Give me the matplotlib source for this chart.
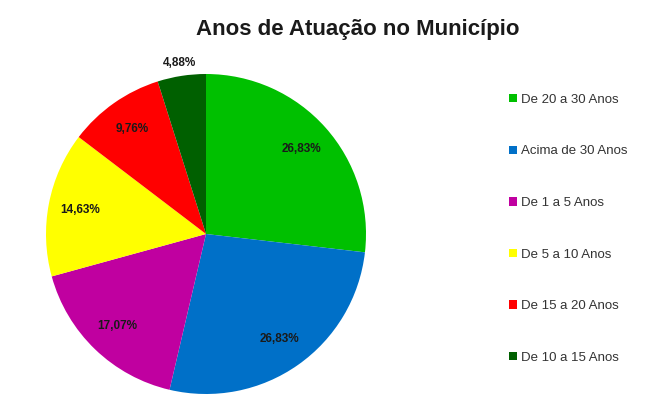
import matplotlib.pyplot as plt
from matplotlib.patches import Patch

plt.rcParams['font.family'] = ['Liberation Sans', 'DejaVu Sans']

labels = ['De 20 a 30 Anos', 'Acima de 30 Anos', 'De 1 a 5 Anos',
          'De 5 a 10 Anos', 'De 15 a 20 Anos', 'De 10 a 15 Anos']
values = [26.83, 26.83, 17.07, 14.63, 9.76, 4.88]
colors = ['#00c000', '#0070c8', '#c000a0', '#ffff00', '#ff0000', '#006000']

fig = plt.figure(figsize=(6.57, 3.99), dpi=100)
fig.patch.set_facecolor('white')

ax = fig.add_axes([46/657, 5/399, 320/657, 320/399])
wedges, texts, autotexts = ax.pie(
    values, colors=colors, startangle=90, counterclock=False,
    autopct=lambda p: ('%.2f%%' % p).replace('.', ','),
    pctdistance=0.8,
    textprops=dict(fontsize=8.5, fontweight='bold', color='#1a1a1a'))
ax.set_xlim(-1, 1)
ax.set_ylim(-1, 1)
ax.set_aspect('equal')

# smallest slice gets its label outside the pie
x, y = autotexts[-1].get_position()
autotexts[-1].set_position((x / 0.8 * 1.08, y / 0.8 * 1.08))

fig.text(358/657, 1 - 29/399, 'Anos de Atuação no Município',
         ha='center', va='center', fontsize=16, fontweight='bold',
         color='#1a1a1a')

handles = [Patch(facecolor=c, edgecolor='none') for c in colors]
fig.legend(handles, labels, loc='upper left',
           bbox_to_anchor=(497/657, 1 - 82/399), frameon=False,
           fontsize=9.5, labelcolor='#333333', handlelength=0.6,
           handleheight=0.6, handletextpad=0.3, labelspacing=3.0)

fig.savefig('out.png', dpi=100)
